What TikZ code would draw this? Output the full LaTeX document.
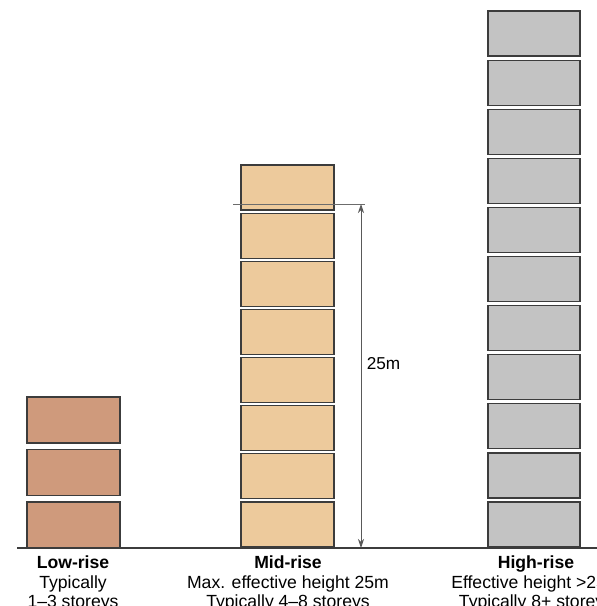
\documentclass[tikz,border=0pt]{standalone}
\usepackage{fontspec}
\setmainfont{Liberation Sans}
\usepackage{tikz}
\usetikzlibrary{arrows.meta,positioning}
\definecolor{lowfill}{HTML}{CF9A7C}
\definecolor{midfill}{HTML}{EDCA9C}
\definecolor{highfill}{HTML}{C3C3C3}
\definecolor{edgegray}{HTML}{3C3C3C}
\tikzset{
  floor/.style={draw=edgegray, line width=1.2pt, rectangle, inner sep=0pt, minimum width=93pt, minimum height=45pt},
  ground/.style={draw=edgegray, line width=1.8pt},
  limitline/.style={draw=gray!85!black, line width=0.8pt},
  dimarr/.style={{Stealth[length=9pt,width=6pt]}-{Stealth[length=9pt,width=6pt]}, draw=gray!70!black, line width=0.9pt},
  caption/.style={align=center, anchor=north, inner sep=0pt, font=\fontsize{17.6}{19.5}\selectfont},
  dimlbl/.style={font=\fontsize{17.2}{19.5}\selectfont, inner sep=0pt},
}

\begin{document}
\begin{tikzpicture}[x=1pt,y=-1pt]
\useasboundingbox (0,0) rectangle (597,606);
% low-rise block
\foreach \k/\yc in {1/420,2/472.5,3/525}
  \node[floor, fill=lowfill, minimum height=46pt] (low\k) at (73.5,\yc) {};
% mid-rise block
\foreach \k in {1,...,8}
  \node[floor, fill=midfill] (mid\k) at (287.5,{187.5+48.14*(\k-1)}) {};
% high-rise block
\foreach \k in {1,...,11}
  \node[floor, fill=highfill, minimum width=92pt] (high\k) at (534,{33.5+49.1*(\k-1)}) {};
% ground
\coordinate (gl) at (17,548);
\coordinate (gr) at (600,548);
\draw[ground] (gl) -- (gr);
% 25m limit
\coordinate (m25l) at (233,204);
\coordinate (m25r) at (365,204);
\draw[limitline] (m25l) -- (m25r);
\coordinate (a25t) at (361,204);
\coordinate (a25b) at (361,548);
\draw[dimarr] (a25t) -- (a25b);
\node[dimlbl] (lbl25) at (383.5,364) {25m};
% captions
\node[caption] (caplow) at (73,556) {\textbf{Low-rise}\\Typically\\1--3 storeys};
\node[caption] (capmid) at (288,556) {\textbf{Mid-rise}\\Max. effective height 25m\\Typically 4--8 storeys};
\node[caption] (caphigh) at (536,556) {\textbf{High-rise}\\Effective height >25m\\Typically 8+ storeys};
\end{tikzpicture}
\end{document}
